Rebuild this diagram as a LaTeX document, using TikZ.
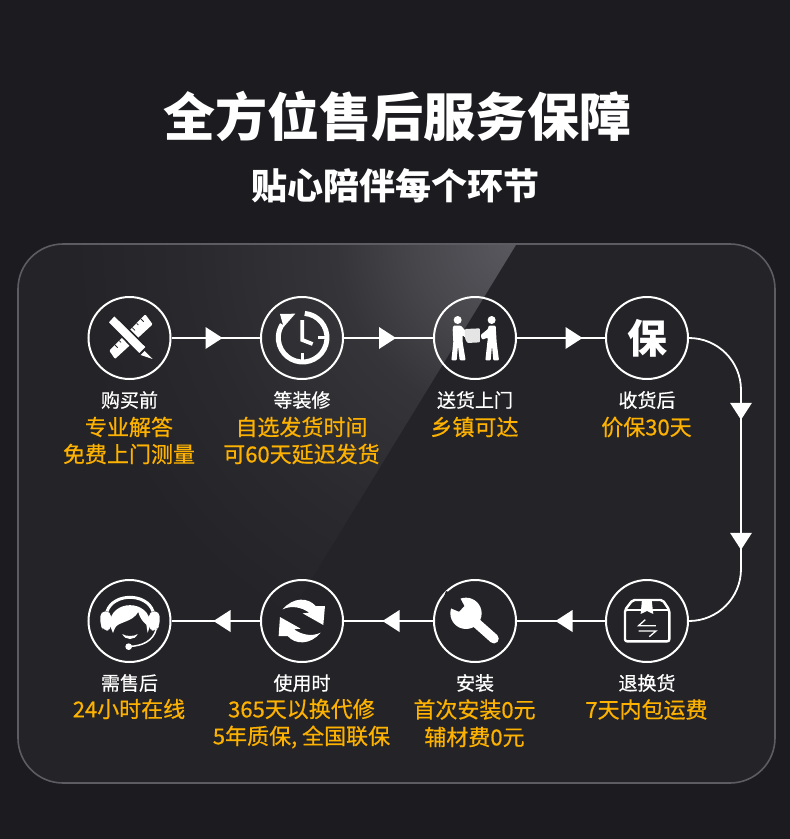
\documentclass[tikz,border=0pt]{standalone}
\usepackage{fontspec}
\usetikzlibrary{decorations.markings}
\setmainfont{Noto Sans CJK SC}
\newfontfamily\cjkw[FakeBold=0.6]{Noto Sans CJK SC}
\definecolor{bgc}{HTML}{1B1B20}
\definecolor{panelc}{HTML}{232328}
\definecolor{edgec}{HTML}{5C5C62}
\definecolor{gold}{HTML}{FDB100}
\definecolor{hla}{HTML}{58585E}
\definecolor{hlb}{HTML}{46464B}
\definecolor{hlc}{HTML}{343439}
\definecolor{hld}{HTML}{2A2A2E}
\pgfdeclareradialshading{hlfade}{\pgfpointorigin}{%
  color(0bp)=(hla);
  color(5.5bp)=(hlb);
  color(10bp)=(hlc);
  color(18bp)=(hld);
  color(25bp)=(panelc);
  color(50bp)=(panelc)}
\tikzset{
  px/.style={x=1pt,y=-1pt},
  circ/.style={circle,draw=white,line width=2pt,minimum size=82pt,inner sep=0pt,text=white,font=\fontsize{40pt}{40pt}\selectfont\bfseries},
  flow/.style={draw=white,line width=1.8pt},
  tipat/.style={postaction={decorate,decoration={markings,mark=at position #1 with {\fill[white,sharp corners] (-17pt,-11pt)--(0pt,0pt)--(-17pt,11pt)--cycle;}}}},
  twotips/.style 2 args={postaction={decorate,decoration={markings,
     mark=at position #1 with {\fill[white,sharp corners] (-17pt,-11pt)--(0pt,0pt)--(-17pt,11pt)--cycle;},
     mark=at position #2 with {\fill[white,sharp corners] (-17pt,-11pt)--(0pt,0pt)--(-17pt,11pt)--cycle;}}}},
  wlab/.style={text=white,font=\cjkw\fontsize{19pt}{19pt}\selectfont,inner sep=0pt},
  glab/.style={text=gold,font=\cjkw\fontsize{22pt}{22pt}\selectfont,inner sep=0pt},
  title/.style={text=white,font=\fontsize{52pt}{52pt}\selectfont\bfseries,inner sep=0pt},
  subtitle/.style={text=white,font=\fontsize{36pt}{36pt}\selectfont\bfseries,inner sep=0pt},
  za/.style={shift={(70,285)},scale=0.3333},
  zb/.style={shift={(410,285)},scale=0.3333},
  zc/.style={shift={(70,570)},scale=0.3333},
  zd/.style={shift={(410,530)},scale=0.3333},
  ze/.style={shift={(85,578)},scale=0.3333},
}
\begin{document}
\begin{tikzpicture}[px]
\useasboundingbox (0,0) rectangle (790,839);
\fill[bgc] (0,0) rectangle (790,839);
% panel
\fill[panelc,rounded corners=45pt] (18,244) rectangle (775,783);
\begin{scope}
  \clip[rounded corners=45pt] (18,244) rectangle (775,783);
  \clip (519,240) -- (262,660) -- (0,660) -- (0,240) -- cycle;
  \shade[shading=hlfade] (512,244) circle (440pt);
\end{scope}
\draw[edgec,line width=1.6pt,rounded corners=45pt] (18,244) rectangle (775,783);
% title
\node[title] (t1) at (397.5,116) {全方位售后服务保障};
\node[subtitle] (t2) at (395,186) {贴心陪伴每个环节};
% circles
\node[circ] (n1) at (129.5,338) {};
\node[circ] (n2) at (302,338) {};
\node[circ] (n3) at (475,338) {};
\node[circ] (n4) at (647,338) {保};
\node[circ] (n5) at (647,621) {};
\node[circ] (n6) at (475,621) {};
\node[circ] (n7) at (302,621) {};
\node[circ] (n8) at (129.5,621) {};
\coordinate (c1) at (741,338);
\coordinate (c2) at (741,621);
% connectors
\draw[flow,tipat=51pt] (n1) -- (n2);
\draw[flow,tipat=52pt] (n2) -- (n3);
\draw[flow,tipat=65.5pt] (n3) -- (n4);
\draw[flow,rounded corners=52pt,twotips={111.5pt}{241.5pt}] (n4.east) -- (c1) -- (c2) -- (n5.east);
\draw[flow,tipat=49.5pt] (n5) -- (n6);
\draw[flow,tipat=50.5pt] (n6) -- (n7);
\draw[flow,tipat=46.5pt] (n7) -- (n8);
% labels
\node[wlab] (l1) at (129.5,400) {购买前};
\node[glab] (l1a) at (129,427) {专业解答};
\node[glab] (l1b) at (129,454) {免费上门测量};
\node[wlab] (l2) at (302,400) {等装修};
\node[glab] (l2a) at (301.5,427) {自选发货时间};
\node[glab] (l2b) at (301.5,454) {可60天延迟发货};
\node[wlab] (l3) at (475,400) {送货上门};
\node[glab] (l3a) at (474.5,427) {乡镇可达};
\node[wlab] (l4) at (647,400) {收货后};
\node[glab] (l4a) at (646.5,427) {价保30天};
\node[wlab] (l5) at (647,683) {退换货};
\node[glab] (l5a) at (646.5,709.5) {7天内包运费};
\node[wlab] (l6) at (475,683) {安装};
\node[glab] (l6a) at (474.5,709.5) {首次安装0元};
\node[glab] (l6b) at (474.5,737) {辅材费0元};
\node[wlab] (l7) at (302,683) {使用时};
\node[glab] (l7a) at (301.5,709) {365天以换代修};
\node[glab] (l7b) at (301.5,737) {5年质保, 全国联保};
\node[wlab] (l8) at (129.5,683) {需售后};
\node[glab] (l8a) at (129,709) {24小时在线};
% icon: ruler and pencil
\begin{scope}[za]
  \fill[white,rounded corners=1pt] (118,197) -- (226,88) -- (248,118) -- (135,222) -- cycle;
  \foreach \a/\l in {135/8,148/5,161/8,174/5,187/8,200/5,213/8}{
    \draw[panelc,line width=0.8pt] (\a,{315-\a}) -- ({\a+\l},{315-\a+\l});
  }
  \fill[white,draw=panelc,line width=1.6pt,rounded corners=0.5pt] (113,112) -- (133,90) -- (230,186) -- (208,208) -- cycle;
  \fill[white] (224,198) -- (248,222) -- (212,210) -- cycle;
\end{scope}
% icon: clock
\begin{scope}[za]
  \draw[white,line width=5pt] (698,158) ++(85:73pt) arc[start angle=85,end angle=-213,radius=73pt];
  \fill[white] (630,87) -- (676,86) -- (641,126) -- cycle;
  \draw[white,line width=3.8pt,line join=miter] (697,105) -- (697,165) -- (728,177);
  \draw[white,line width=2.6pt] (745,158) -- (770,158);
  \draw[white,line width=2.6pt] (698,205) -- (698,230);
\end{scope}
% icon: people with box
\begin{scope}[zb]
  \fill[white] (143,105) circle (12pt);
  \fill[white] (245,105) circle (12pt);
  \fill[white,rounded corners=1pt] (130,122) -- (153,122) -- (174,146) -- (165,158) -- (158,150) -- (158,172) -- (167,226) -- (149,226) -- (144,182) -- (140,226) -- (124,226) -- (130,172) -- (128,132) -- cycle;
  \fill[white,rounded corners=1pt] (236,122) -- (257,122) -- (260,172) -- (267,226) -- (250,226) -- (246,182) -- (242,226) -- (226,226) -- (232,172) -- (234,158) -- (216,164) -- (212,150) -- (234,132) -- cycle;
  \fill[white!90!black,rounded corners=1pt] (165,132) -- (210,130) -- (210,172) -- (172,174) -- (165,160) -- cycle;
\end{scope}
% icon: parcel box
\begin{scope}[zd]
  \draw[white,line width=2.4pt,line join=round,rounded corners=2pt] (645,240) -- (668,210) -- (758,210) -- (778,240) -- (778,334) -- (645,334) -- cycle;
  \draw[white,line width=2.2pt] (645,241) -- (778,241);
  \fill[white] (696,209) -- (725,209) -- (730,252) -- (711,243) -- (692,252) -- cycle;
  \draw[white,line width=1.3pt] (738,287) -- (686,287) -- (706,269);
  \draw[white,line width=1.3pt] (686,303) -- (738,303) -- (718,320);
\end{scope}
% icon: wrench
\begin{scope}[zd]
  \fill[white] (168,250) circle (47pt);
  \draw[white,line width=9.6pt,line cap=round] (180,262) -- (252,326);
  \fill[panelc] (108,183) -- (146,196) -- (163,228) -- (147,245) -- (116,232) -- (100,205) -- cycle;
\end{scope}
% icon: refresh arrows
\begin{scope}[zc]
  \fill[white] (638,118) .. controls (670,80) and (715,82) .. (737,108) -- (765,108) -- (760,165) -- (698,130) -- (718,128) .. controls (695,112) and (665,105) .. (638,118) -- cycle;
  \fill[white] (752,188) .. controls (720,226) and (675,224) .. (653,198) -- (626,198) -- (630,141) -- (692,176) -- (672,178) .. controls (695,194) and (725,201) .. (752,188) -- cycle;
\end{scope}
% icon: headset
\begin{scope}[ze]
  \draw[white,line width=3pt] (66,100) .. controls (85,44) and (185,44) .. (204,100);
  \fill[white,rounded corners=5pt] (46,100) -- (78,100) -- (78,158) -- (56,158) -- (46,142) -- cycle;
  \fill[white,rounded corners=5pt] (192,100) -- (224,100) -- (224,142) -- (214,158) -- (192,158) -- cycle;
  \fill[white] (74,140) .. controls (74,62) and (196,62) .. (196,140) -- (188,165) -- (184,140) .. controls (172,130) and (164,118) .. (160,102) .. controls (140,135) and (100,130) .. (90,150) -- (84,165) -- cycle;
  \fill[white] (112,168) .. controls (122,176) and (148,176) .. (158,168) .. controls (150,188) and (120,188) .. (112,168) -- cycle;
  \draw[white,line width=1.5pt] (214,152) .. controls (205,190) and (170,204) .. (135,205);
  \fill[white] (131,206) circle (10pt);
\end{scope}
\end{tikzpicture}
\end{document}
